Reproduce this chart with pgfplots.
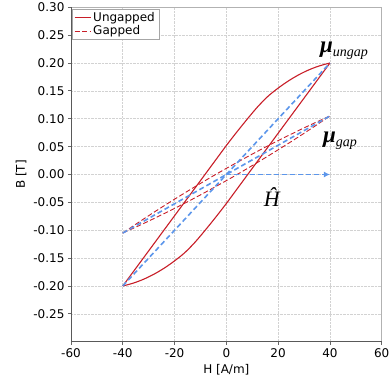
\documentclass[border=0pt]{standalone}
\usepackage{pgfplots}
\pgfplotsset{compat=1.18}
\usepackage{fontspec}
\setmainfont{DejaVu Sans}
\newfontfamily\serif{Liberation Serif}
\usetikzlibrary{arrows.meta}
\definecolor{rd}{RGB}{200,30,40}
\definecolor{bl}{RGB}{92,150,235}
\begin{document}
\begin{tikzpicture}
\begin{axis}[
 name=ax,
 width=310.7pt, height=334.4pt, scale only axis,
 xmin=-60, xmax=60, ymin=-0.3, ymax=0.3,
 clip=false,
 xtick={-60,-40,-20,0,20,40,60},
 ytick={-0.25,-0.20,-0.15,-0.10,-0.05,0,0.05,0.10,0.15,0.20,0.25,0.30},
 yticklabel style={/pgf/number format/.cd, fixed, fixed zerofill, precision=2},
 /pgf/number format/assume math mode=true,
 ticklabel style={font=\fontsize{12}{14}\selectfont, text=black},
 label style={font=\fontsize{12}{14}\selectfont, text=black},
 xlabel={H [A/m]}, ylabel={B [T]},
 grid=major, grid style={densely dotted, gray!35, line width=0.6pt},
 axis line style={gray!60, line width=0.8pt},
 tick style={black!60, line width=0.8pt},
 major tick length=3pt, tick align=outside,
 tick pos=left,
 legend style={at={(0.003,0.995)}, anchor=north west, draw=gray!70, fill=white,
   font=\fontsize{12}{13}\selectfont, inner xsep=2pt, inner ysep=1pt, row sep=-1pt,
   cells={anchor=west}},
 legend image code/.code={\draw[#1] (0pt,0pt) -- (16pt,0pt);},
]
% Ungapped loop: ascending (lower) branch
\addplot[rd, line width=1.1pt, smooth] coordinates {
(-40,-0.200) (-36,-0.195) (-32,-0.188) (-28,-0.179) (-24,-0.168) (-20,-0.155)
(-16,-0.140) (-12,-0.121) (-8,-0.099) (-4,-0.076) (0,-0.052) (5,-0.0205)
(10,0.011) (15,0.0425) (20,0.074) (25,0.1055) (30,0.137) (35,0.1685) (40,0.200)};
\addlegendentry{Ungapped}
% Gapped loop: upper branch
\addplot[rd, line width=0.9pt, dash pattern=on 5pt off 2.5pt, smooth] coordinates {
(-40,-0.105) (-35,-0.0893) (-30,-0.0739) (-25,-0.0589) (-20,-0.0443) (-15,-0.0300)
(-10,-0.0160) (-5,-0.0023) (0,0.0110) (5,0.0239) (10,0.0366) (15,0.0489)
(20,0.0608) (25,0.0723) (30,0.0836) (35,0.0945) (40,0.105)};
\addlegendentry{Gapped}
% Ungapped loop: descending (upper) branch
\addplot[rd, line width=1.1pt, smooth, forget plot] coordinates {
(-40,-0.200) (-35,-0.1685) (-30,-0.137) (-25,-0.1055) (-20,-0.074) (-15,-0.0425)
(-10,-0.011) (-5,0.0205) (0,0.052) (4,0.076) (8,0.099) (12,0.121) (16,0.140)
(20,0.155) (24,0.168) (28,0.179) (32,0.188) (36,0.195) (40,0.200)};
% Gapped loop: lower branch
\addplot[rd, line width=0.9pt, dash pattern=on 5pt off 2.5pt, smooth, forget plot] coordinates {
(-40,-0.105) (-35,-0.0945) (-30,-0.0836) (-25,-0.0723) (-20,-0.0608) (-15,-0.0489)
(-10,-0.0366) (-5,-0.0239) (0,-0.0110) (5,0.0023) (10,0.0160) (15,0.0300)
(20,0.0443) (25,0.0589) (30,0.0739) (35,0.0893) (40,0.105)};
% permeability lines
\addplot[bl, line width=1.6pt, dash pattern=on 5pt off 3pt, forget plot] coordinates {(-40,-0.2) (40,0.2)};
\addplot[bl, line width=1.6pt, dash pattern=on 5pt off 3pt, forget plot] coordinates {(-40,-0.105) (40,0.105)};
\addplot[bl, line width=1.6pt, dash pattern=on 5pt off 3pt, -{Latex[length=6pt,width=6pt]}, forget plot] coordinates {(0,0) (40,0)};
% annotations
\node[anchor=base west, inner sep=0] at (axis cs:36.1,0.218)
 {\serif\itshape\fontsize{23}{23}\selectfont{\bfseries μ}\fontsize{14}{14}\selectfont\raisebox{-4pt}{ungap}};
\node[anchor=base west, inner sep=0] at (axis cs:37.3,0.058)
 {\serif\itshape\fontsize{23}{23}\selectfont{\bfseries μ}\fontsize{14}{14}\selectfont\raisebox{-4pt}{gap}};
\node[anchor=base west, inner sep=0] at (axis cs:14.4,-0.057)
 {\serif\itshape\fontsize{22}{22}\selectfont Ĥ};
\draw[black!65, line width=0.8pt] (rel axis cs:0,1) -- (rel axis cs:0,0) -- (rel axis cs:1,0);
\end{axis}
\pgfresetboundingbox
\path[use as bounding box] ([xshift=-71pt,yshift=-43.3pt]ax.south west) rectangle ([xshift=8.3pt,yshift=7.3pt]ax.north east);
\end{tikzpicture}
\end{document}
